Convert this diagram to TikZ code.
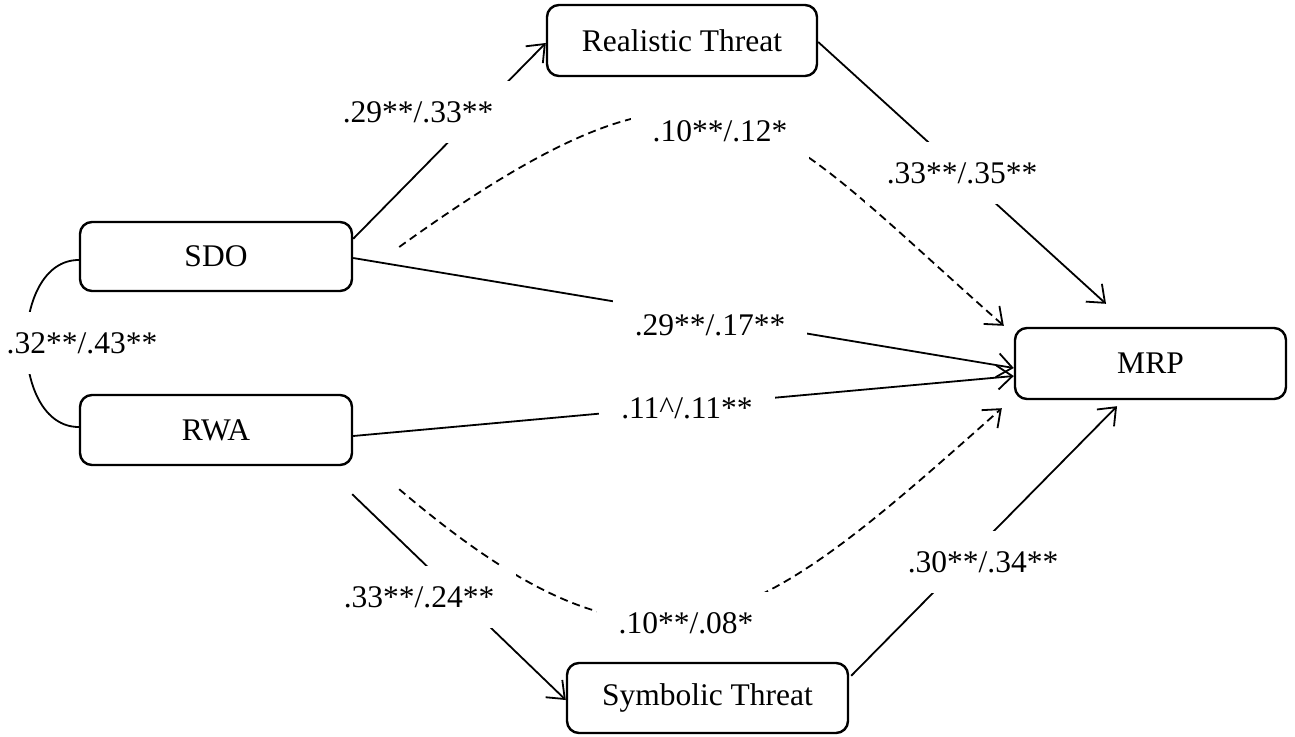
\documentclass[tikz,border=0pt]{standalone}
\usepackage{fontspec}
\setmainfont{Liberation Serif}
\usetikzlibrary{arrows.meta,calc}
\begin{document}
\begin{tikzpicture}[x=1pt,y=-1pt,
  txt/.style={font=\fontsize{31.5pt}{36pt}\selectfont},
  box/.style={txt, draw, line width=2.4pt, rounded corners=12pt, inner sep=0pt, minimum height=70pt},
  lab/.style={txt, fill=white, inner xsep=22pt, inner ysep=0pt, minimum height=62pt},
  conn/.style={line width=1.8pt, -{Straight Barb[length=15pt,width=24pt]}},
  ind/.style={conn, dash pattern=on 8pt off 5pt},
  corr/.style={line width=1.8pt},
]
\useasboundingbox (0,0) rectangle (1295,736);

% nodes
\node[box, minimum width=272pt, minimum height=69pt] (SDO) at (216,256.5) {SDO};
\node[box, minimum width=272pt] (RWA) at (216,430) {RWA};
\node[box, minimum width=270pt, minimum height=71pt] (RT) at (682,40.5) {Realistic Threat};
\node[box, minimum width=281pt] (ST) at (707.5,698) {Symbolic Threat};
\node[box, minimum width=271pt, minimum height=71pt] (MRP) at (1150.5,363.5) {MRP};

% free ends
\coordinate (d1s) at ($(SDO.east)+(46,-9.5)$);
\coordinate (d1e) at ($(MRP.north west)+(-10,-1)$);
\coordinate (d2s) at ($(RWA.south east)+(46,23)$);
\coordinate (d2e) at ($(MRP.south west)+(-12,8)$);
\coordinate (rtm) at ($(MRP.north)+(-44.5,-23)$);
\coordinate (stm) at ($(MRP.south)+(-33.5,6)$);
\coordinate (rws) at ($(RWA.south east)+(-1,28)$);

% connectors
\draw[conn] ($(SDO.north east)+(0,18)$) -- ($(RT.west)+(0,2.5)$);
\draw[conn] ($(SDO.east)+(0,1.5)$) -- ($(MRP.west)+(0,4.5)$);
\draw[conn] ($(RWA.east)+(0,6)$) -- ($(MRP.west)+(0,12.5)$);
\draw[conn] ($(RT.east)+(0,1.5)$) -- (rtm);
\draw[conn] ($(ST.north east)+(2,14)$) -- (stm);
\draw[conn] (rws) -- ($(ST.west)+(0,2)$);
\draw[ind] (d1s) .. controls +(320,-230) and +(-250,-220) .. (d1e);
\draw[ind] (d2s) .. controls +(260,221) and +(-250,222.5) .. (d2e);
\draw[corr] ($(SDO.west)+(0,3.5)$) .. controls +(-70,0) and +(-70,0) .. ($(RWA.west)+(0,-3)$);

% labels
\node[lab] (l1) at (418,112) {.29**/.33**};
\node[lab] (l2) at (720,131) {.10**/.12*};
\node[lab] (l3) at (962,173) {.33**/.35**};
\node[lab] (l4) at (710,325) {.29**/.17**};
\node[lab] (l5) at (687,408) {.11\textasciicircum/.11**};
\node[lab] (l6) at (419,597) {.33**/.24**};
\node[lab] (l7) at (686,623) {.10**/.08*};
\node[lab] (l8) at (983,562) {.30**/.34**};
\node[lab] (l9) at (82,343) {.32**/.43**};
\end{tikzpicture}
\end{document}
